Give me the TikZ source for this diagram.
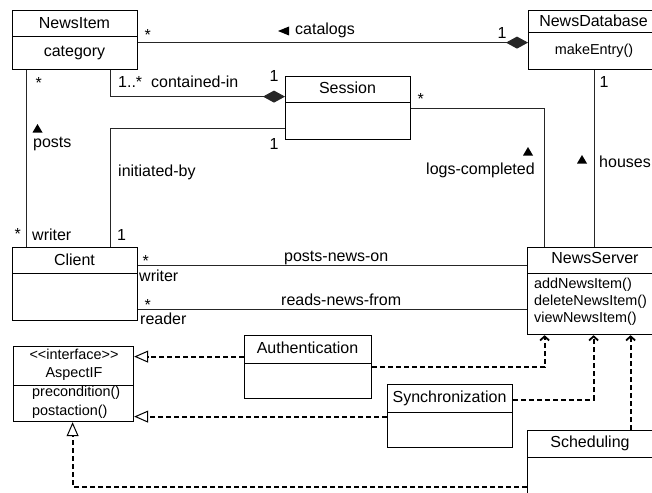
\documentclass[tikz,border=0pt]{standalone}
\usepackage{fontspec}
\setmainfont{Liberation Sans}
\usetikzlibrary{arrows.meta,calc}

\begin{document}
\begin{tikzpicture}[x=1pt,y=-1pt,
  classbox/.style={draw=black, line width=1.2pt, rectangle, inner sep=0pt, anchor=north west},
  divider/.style={draw=black, line width=1pt},
  title/.style={inner sep=0pt, anchor=base, font=\fontsize{16}{18}\selectfont},
  meth/.style={inner sep=0pt, anchor=base west, font=\fontsize{14.4}{16}\selectfont},
  methc/.style={inner sep=0pt, anchor=base, font=\fontsize{14.4}{16}\selectfont},
  lbl/.style={inner sep=0pt, anchor=base west, font=\fontsize{16}{18}\selectfont},
  dirmark/.style={fill=black},
  assoc/.style={draw=black!85, line width=1pt},
  compose/.style={assoc, -{Diamond[length=22pt,width=12pt]}},
  depend/.style={draw=black, line width=1.8pt, dash pattern=on 5pt off 3pt},
  uses/.style={depend, -{Straight Barb[length=4pt,width=9pt]}},
  realize/.style={depend, -{Triangle[open,length=14pt,width=12pt,line width=1pt,fill=white]}}
]
\useasboundingbox (0,0) rectangle (652,492);
\clip (0,0) rectangle (652,492);
\fill[white] (0,0) rectangle (652,492);

% ---- classes ----
\node[classbox, minimum width=125pt, minimum height=59pt] (ni) at (12,10) {};
\draw[divider] ([yshift=-27pt]ni.north west) -- ([yshift=-27pt]ni.north east);
\node[title] (niT) at (74.5,29) {NewsItem};
\node[title] (niA) at (74.5,57) {category};

\node[classbox, minimum width=131pt, minimum height=59pt] (db) at (528,10) {};
\draw[divider] ([yshift=-23pt]db.north west) -- ([yshift=-23pt]db.north east);
\node[title] (dbT) at (593.5,26.5) {NewsDatabase};
\node[methc] (dbM) at (594,55) {makeEntry()};

\node[classbox, minimum width=125pt, minimum height=63pt] (ss) at (285,76) {};
\draw[divider] ([yshift=-27pt]ss.north west) -- ([yshift=-27pt]ss.north east);
\node[title] (ssT) at (347.5,94) {Session};

\node[classbox, minimum width=125pt, minimum height=73pt] (cl) at (12,247) {};
\draw[divider] ([yshift=-26pt]cl.north west) -- ([yshift=-26pt]cl.north east);
\node[title] (clT) at (74.5,265) {Client};

\node[classbox, minimum width=132pt, minimum height=87pt] (ns) at (527,247) {};
\draw[divider] ([yshift=-26pt]ns.north west) -- ([yshift=-26pt]ns.north east);
\node[title] (nsT) at (595,263) {NewsServer};
\node[meth] (nsM1) at (534,288) {addNewsItem()};
\node[meth] (nsM2) at (534,305) {deleteNewsItem()};
\node[meth] (nsM3) at (534,322) {viewNewsItem()};

\node[classbox, minimum width=120pt, minimum height=75pt] (ai) at (13,346) {};
\draw[divider] ([yshift=-39pt]ai.north west) -- ([yshift=-39pt]ai.north east);
\node[methc] (aiS) at (74,359) {<{}<interface>{}>};
\node[methc] (aiT) at (74,377) {AspectIF};
\node[meth] (aiM1) at (32,396.5) {precondition()};
\node[meth] (aiM2) at (32,415) {postaction()};

\node[classbox, minimum width=127pt, minimum height=63pt] (au) at (244,335) {};
\draw[divider] ([yshift=-28pt]au.north west) -- ([yshift=-28pt]au.north east);
\node[title] (auT) at (307.5,353) {Authentication};

\node[classbox, minimum width=125pt, minimum height=63pt] (sy) at (387,384) {};
\draw[divider] ([yshift=-28pt]sy.north west) -- ([yshift=-28pt]sy.north east);
\node[title] (syT) at (449.5,402) {Synchronization};

\node[classbox, minimum width=132pt, minimum height=100pt] (sc) at (527,430) {};
\draw[divider] ([yshift=-27pt]sc.north west) -- ([yshift=-27pt]sc.north east);
\node[title] (scT) at (590,447) {Scheduling};

% ---- associations ----
\draw[compose] ([yshift=-2.5pt]ni.east) -- ([yshift=-2.5pt]ni.east -| db.west);
\draw[compose] ([xshift=35.5pt]ni.south) |- ([yshift=11.5pt]ss.west);
\draw[assoc] ([yshift=-20.5pt]ss.west) -| ([xshift=35.5pt]cl.north);
\draw[assoc] ([xshift=-48.5pt]ni.south) -- ([xshift=-48.5pt]cl.north);
\draw[assoc] (ss.east) -| ([xshift=-49pt]ns.north);
\draw[assoc] (db.south) -- (db.south |- ns.north);
\draw[assoc] ([yshift=18.5pt]cl.east) -- ([yshift=18.5pt]cl.east -| ns.west);
\draw[assoc] ([yshift=-25.5pt]cl.east) -- ([yshift=-25.5pt]cl.east -| ns.west);

% ---- aspect dependencies ----
\draw[realize] ([yshift=10.5pt]au.west) -- ([yshift=10.5pt]au.west -| ai.east);
\draw[uses] (au.east) -| ([xshift=-49pt]ns.south);
\draw[realize] ([yshift=-0.5pt]sy.west) -- ([yshift=-0.5pt]sy.west -| ai.east);
\draw[uses] ([yshift=16.5pt]sy.east) -| (ns.south);
\draw[uses] ([xshift=37pt]sc.north) -- ([xshift=37pt]ns.south);
\draw[realize] ([yshift=-6pt]sc.west) -| ([xshift=-1pt]ai.south);

% ---- association labels ----
\node[lbl] (m1) at (144.5,40.5) {*};
\fill[dirmark] (278,31) -- (289,26.5) -- (289,35.5) -- cycle;
\node[lbl] (l1) at (295,35) {catalogs};
\node[lbl] (m2) at (497.5,39) {1};

\node[lbl] (m3) at (118,88) {1..*};
\node[lbl] (l2) at (151,88) {contained-in};
\node[lbl] (m4) at (269.5,82) {1};

\node[lbl] (m5) at (269.5,149) {1};
\node[lbl] (l3) at (118,176.5) {initiated-by};
\node[lbl] (m6) at (117,240) {1};

\node[lbl] (m7) at (35.5,88.5) {*};
\fill[dirmark] (37.5,124) -- (42.5,132.5) -- (32.5,132.5) -- cycle;
\node[lbl] (l4) at (33,147) {posts};
\node[lbl] (m8) at (14.5,239.5) {*};
\node[lbl] (r1) at (32,240) {writer};

\node[lbl] (m9) at (417.5,104.5) {*};
\fill[dirmark] (528,147) -- (533,155.5) -- (523,155.5) -- cycle;
\node[lbl] (l5) at (426,174) {logs-completed};

\node[lbl] (m10) at (599.5,88) {1};
\fill[dirmark] (582,155) -- (587,163.5) -- (577,163.5) -- cycle;
\node[lbl] (l6) at (599,167) {houses};

\node[lbl] (m11) at (142.5,266.5) {*};
\node[lbl] (r2) at (139,281) {writer};
\node[lbl] (l7) at (284,261) {posts-news-on};

\node[lbl] (m12) at (144.5,310) {*};
\node[lbl] (r3) at (140,324.5) {reader};
\node[lbl] (l8) at (281,305) {reads-news-from};
\end{tikzpicture}
\end{document}
